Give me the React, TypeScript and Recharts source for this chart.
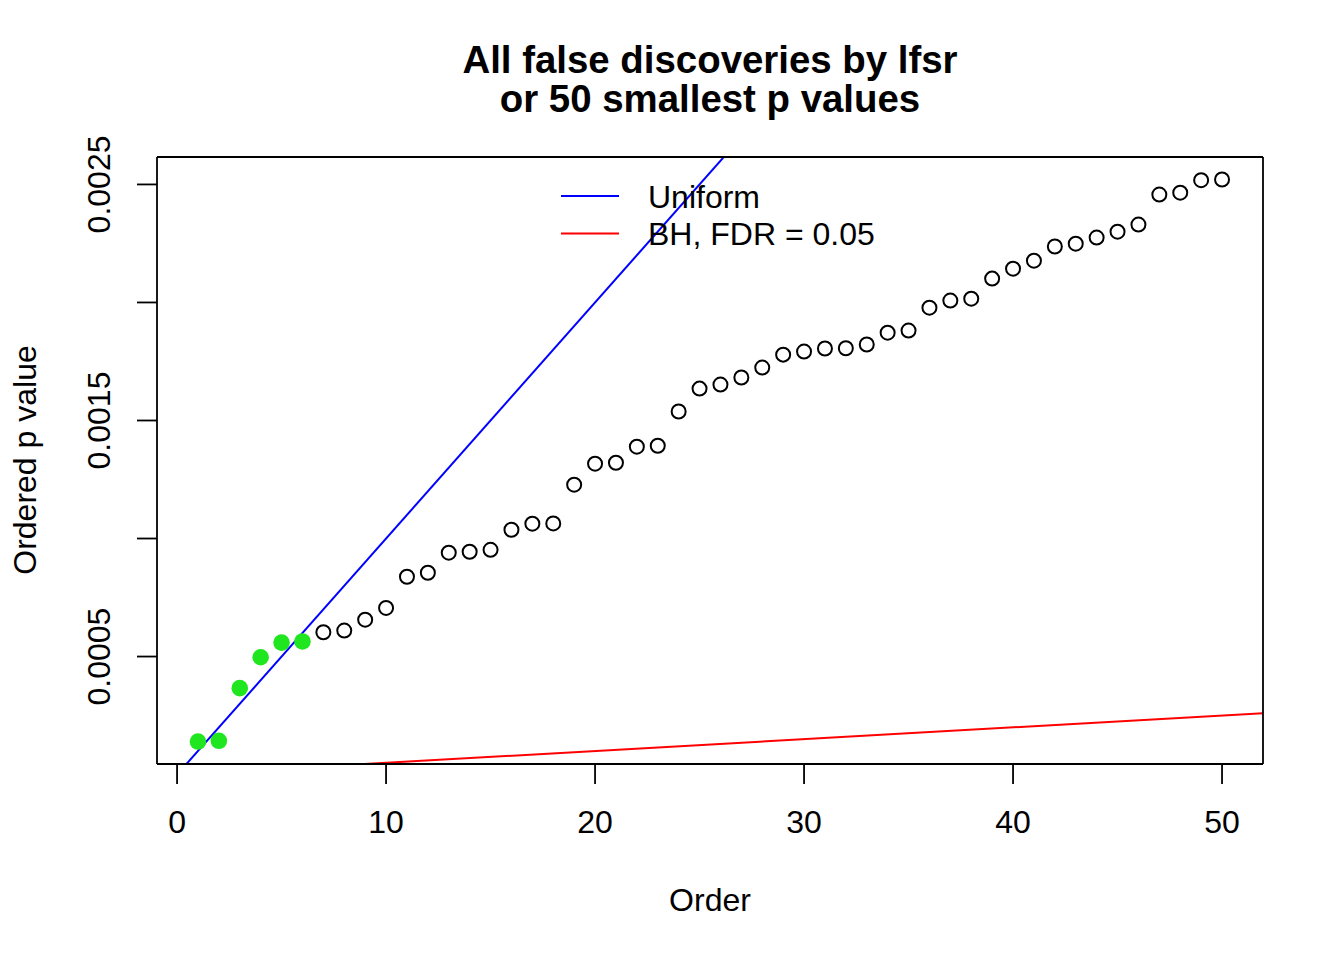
import React from 'react';
import { ComposedChart, XAxis, YAxis, Scatter, Line } from 'recharts';

// ---- data ----
const order = [
  1, 2, 3, 4, 5, 6, 7, 8, 9, 10,
  11, 12, 13, 14, 15, 16, 17, 18, 19, 20,
  21, 22, 23, 24, 25, 26, 27, 28, 29, 30,
  31, 32, 33, 34, 35, 36, 37, 38, 39, 40,
  41, 42, 43, 44, 45, 46, 47, 48, 49, 50,
];
const pValues = [
  0.000140, 0.000143, 0.000366, 0.000497, 0.000559, 0.000564, 0.000603, 0.000610, 0.000656, 0.000706,
  0.000838, 0.000855, 0.000940, 0.000944, 0.000952, 0.001037, 0.001063, 0.001064, 0.001228, 0.001317,
  0.001321, 0.001389, 0.001393, 0.001538, 0.001635, 0.001652, 0.001682, 0.001724, 0.001779, 0.001792,
  0.001805, 0.001806, 0.001822, 0.001872, 0.001881, 0.001978, 0.002008, 0.002016, 0.002101, 0.002143,
  0.002177, 0.002237, 0.002249, 0.002275, 0.002300, 0.002330, 0.002457, 0.002465, 0.002518, 0.002521,
];
const falseDiscoveryCount = 6;
const nTests = 10000;
const fdrLevel = 0.05;
const lineOrderEnds = [0, 60];

const xTicks = [0, 10, 20, 30, 40, 50];
const xTickLabels = ['0', '10', '20', '30', '40', '50'];
const yTicks = [0.0005, 0.001, 0.0015, 0.002, 0.0025];
const yTickLabels = ['0.0005', '', '0.0015', '', '0.0025'];
const legendLabels = ['Uniform', 'BH, FDR = 0.05'];
const legendColors = ['#0000FF', '#FF0000'];
const titleLines = ['All false discoveries by lfsr', 'or 50 smallest p values'];
const xLabel = 'Order';
const yLabel = 'Ordered p value';

// ---- derived tables ----
const points = order.map((o, i) => ({ x: o, y: pValues[i] }));
const discovered = points.slice(0, falseDiscoveryCount);
const others = points.slice(falseDiscoveryCount);
const uniformLine = lineOrderEnds.map((o) => ({ x: o, y: o / nTests }));
const bhLine = lineOrderEnds.map((o) => ({ x: o, y: (fdrLevel * o) / nTests }));

const pad = (lo: number, hi: number): [number, number] => {
  const r = hi - lo;
  return [lo - 0.04 * r, hi + 0.04 * r];
};
const xDomain = pad(Math.min(...order), Math.max(...order));
const yDomain = pad(Math.min(...pValues), Math.max(...pValues));

const FONT = '"Liberation Sans", Arial, Helvetica, sans-serif';
const BASE = 32;

const XTick = (props: any) => {
  const { x, y, index } = props;
  return (
    <text x={x} y={y + 49} textAnchor="middle" fontFamily={FONT} fontSize={BASE} fill="#000">
      {xTickLabels[index]}
    </text>
  );
};

const YTick = (props: any) => {
  const { x, y, index } = props;
  const lbl = yTickLabels[index];
  if (!lbl) return <g />;
  const tx = x - 27;
  return (
    <text
      x={tx}
      y={y}
      transform={`rotate(-90 ${tx} ${y})`}
      textAnchor="middle"
      fontFamily={FONT}
      fontSize={BASE}
      fill="#000"
    >
      {lbl}
    </text>
  );
};

const OpenCircle = (props: any) => (
  <circle cx={props.cx} cy={props.cy} r={7} fill="none" stroke="#000" strokeWidth={2} />
);
const GreenDot = (props: any) => (
  <circle cx={props.cx} cy={props.cy} r={8.3} fill="#20E620" stroke="none" />
);

export default function App() {
  const axisStroke = { stroke: '#000', strokeWidth: 1.8 };
  return (
    <div style={{ position: 'absolute', left: 0, top: 0, width: 1344, height: 960, background: '#fff' }}>
      <ComposedChart
        width={1344}
        height={960}
        margin={{ top: 156, right: 80, bottom: 195, left: 156 }}
      >
        <XAxis
          xAxisId="b"
          dataKey="x"
          type="number"
          domain={xDomain}
          allowDataOverflow
          ticks={xTicks}
          interval={0}
          height={1}
          tickSize={20}
          tickMargin={0}
          tick={<XTick />}
          tickLine={axisStroke}
          axisLine={axisStroke}
        />
        <XAxis
          xAxisId="t"
          orientation="top"
          dataKey="x"
          type="number"
          domain={xDomain}
          allowDataOverflow
          height={1}
          tick={false}
          tickLine={false}
          axisLine={axisStroke}
        />
        <YAxis
          yAxisId="l"
          dataKey="y"
          type="number"
          domain={yDomain}
          allowDataOverflow
          ticks={yTicks}
          interval={0}
          width={1}
          tickSize={20}
          tickMargin={0}
          tick={<YTick />}
          tickLine={axisStroke}
          axisLine={axisStroke}
        />
        <YAxis
          yAxisId="r"
          orientation="right"
          dataKey="y"
          type="number"
          domain={yDomain}
          allowDataOverflow
          width={1}
          tick={false}
          tickLine={false}
          axisLine={axisStroke}
        />
        <Scatter
          xAxisId="b"
          yAxisId="l"
          data={others}
          dataKey="y"
          shape={<OpenCircle />}
          isAnimationActive={false}
        />
        <Scatter
          xAxisId="b"
          yAxisId="l"
          data={discovered}
          dataKey="y"
          shape={<GreenDot />}
          isAnimationActive={false}
        />
        <Line
          xAxisId="b"
          yAxisId="l"
          data={uniformLine}
          dataKey="y"
          type="linear"
          stroke="#0000FF"
          strokeWidth={2}
          dot={false}
          activeDot={false}
          isAnimationActive={false}
        />
        <Line
          xAxisId="b"
          yAxisId="l"
          data={bhLine}
          dataKey="y"
          type="linear"
          stroke="#FF0000"
          strokeWidth={2}
          dot={false}
          activeDot={false}
          isAnimationActive={false}
        />
      </ComposedChart>
      <svg
        width={1344}
        height={960}
        style={{ position: 'absolute', left: 0, top: 0, pointerEvents: 'none' }}
      >
        {titleLines.map((t, i) => (
          <text
            key={t}
            x={710}
            y={73 + i * 39}
            textAnchor="middle"
            fontFamily={FONT}
            fontWeight="bold"
            fontSize={BASE * 1.2}
            fill="#000"
          >
            {t}
          </text>
        ))}
        <text x={710} y={911} textAnchor="middle" fontFamily={FONT} fontSize={BASE} fill="#000">
          {xLabel}
        </text>
        <text
          x={36}
          y={460}
          transform="rotate(-90 36 460)"
          textAnchor="middle"
          fontFamily={FONT}
          fontSize={BASE}
          fill="#000"
        >
          {yLabel}
        </text>
        {legendLabels.map((l, i) => (
          <g key={l}>
            <line x1={561} x2={619} y1={196 + i * 37.5} y2={196 + i * 37.5} stroke={legendColors[i]} strokeWidth={2} />
            <text x={648} y={207.5 + i * 37.5} fontFamily={FONT} fontSize={BASE} fill="#000">
              {l}
            </text>
          </g>
        ))}
      </svg>
    </div>
  );
}
